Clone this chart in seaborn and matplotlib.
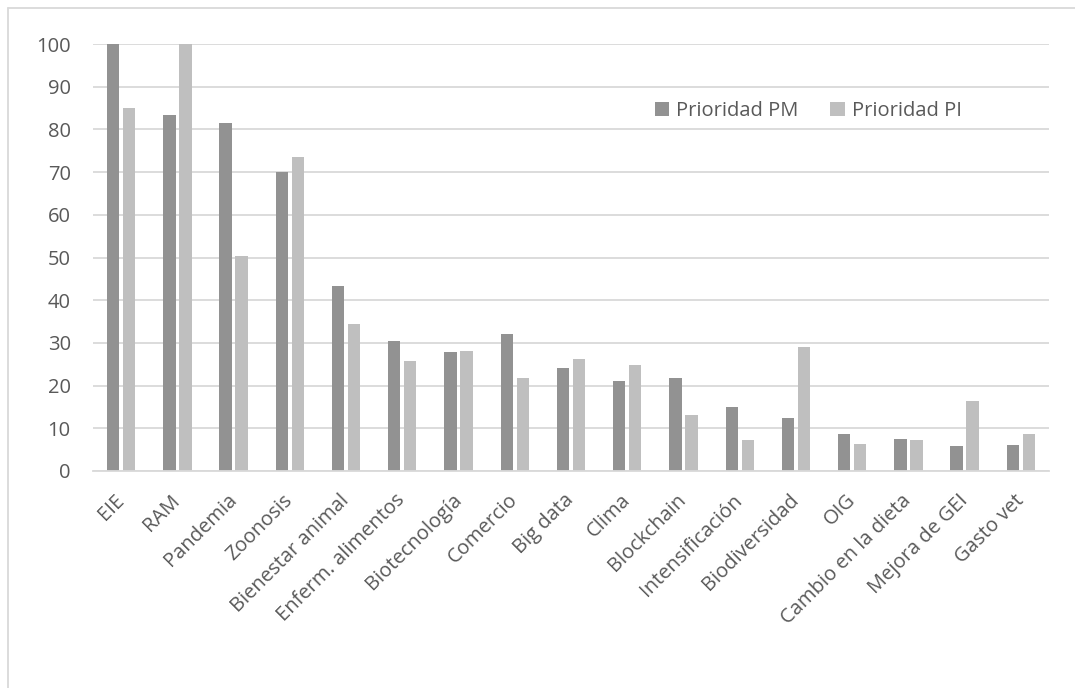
import matplotlib
matplotlib.use("Agg")
import matplotlib.pyplot as plt
import matplotlib.lines as mlines
import seaborn as sns
import pandas as pd

categories = ["EIE", "RAM", "Pandemia", "Zoonosis", "Bienestar animal",
              "Enferm. alimentos", "Biotecnología", "Comercio", "Big data",
              "Clima", "Blockchain", "Intensificación", "Biodiversidad", "OIG",
              "Cambio en la dieta", "Mejora de GEI", "Gasto vet"]
prioridad_pm = [100, 83.4, 81.5, 70.0, 43.3, 30.4, 27.9, 32.1, 24.2,
                21.1, 21.8, 14.9, 12.4, 8.7, 7.4, 5.9, 6.2]
prioridad_pi = [85.0, 100, 50.3, 73.6, 34.5, 25.7, 28.1, 21.8, 26.2,
                24.9, 13.1, 7.2, 29.0, 6.3, 7.2, 16.3, 8.7]
series_names = ["Prioridad PM", "Prioridad PI"]
y_ticks = [0, 10, 20, 30, 40, 50, 60, 70, 80, 90, 100]

df = pd.DataFrame({
    "cat": categories * 2,
    "val": prioridad_pm + prioridad_pi,
    "serie": [series_names[0]] * len(categories) + [series_names[1]] * len(categories),
})

sns.set_theme(style="white")
plt.rcParams["font.family"] = ["Open Sans", "DejaVu Sans"]
text_color = "#595959"
fs = 14.5

fig = plt.figure(figsize=(10.75, 6.88), dpi=100)
ax = fig.add_axes([93/1075, 1 - 471/688, (1049-93)/1075, (471-44)/688])

sns.barplot(data=df, x="cat", y="val", hue="serie", order=categories,
            hue_order=series_names, palette=["#929292", "#bfbfbf"],
            width=0.57, gap=0.23, saturation=1, ax=ax, linewidth=0)

ax.set_ylim(0, 100)
ax.set_xlim(-0.5, len(categories) - 0.5)
ax.set_yticks(y_ticks)
ax.yaxis.grid(True, color="#d9d9d9", linewidth=1.3)
ax.set_axisbelow(True)
for s in ["top", "right", "left"]:
    ax.spines[s].set_visible(False)
ax.spines["bottom"].set_color("#d9d9d9")
ax.spines["bottom"].set_linewidth(1.3)
ax.set_xlabel("")
ax.set_ylabel("")
ax.tick_params(axis="y", length=0, pad=16, labelsize=fs, labelcolor=text_color)
ax.tick_params(axis="x", length=0, pad=19, labelsize=fs, labelcolor=text_color)
for lab in ax.get_xticklabels():
    lab.set_rotation(45)
    lab.set_ha("right")
    lab.set_va("center")
    lab.set_rotation_mode("anchor")

leg = ax.legend(loc="center", bbox_to_anchor=(0.748, 0.843), ncol=2, frameon=False,
                fontsize=fs, handlelength=0.7, handleheight=0.7, handletextpad=0.35,
                columnspacing=1.6)
for t in leg.get_texts():
    t.set_color(text_color)

fig.add_artist(mlines.Line2D([8/1075, 8/1075], [0, 1 - 8/688], color="#d9d9d9", linewidth=1.3))
fig.add_artist(mlines.Line2D([8/1075, 1], [1 - 8/688, 1 - 8/688], color="#d9d9d9", linewidth=1.3))

fig.savefig("out.png", dpi=100, facecolor="white")
